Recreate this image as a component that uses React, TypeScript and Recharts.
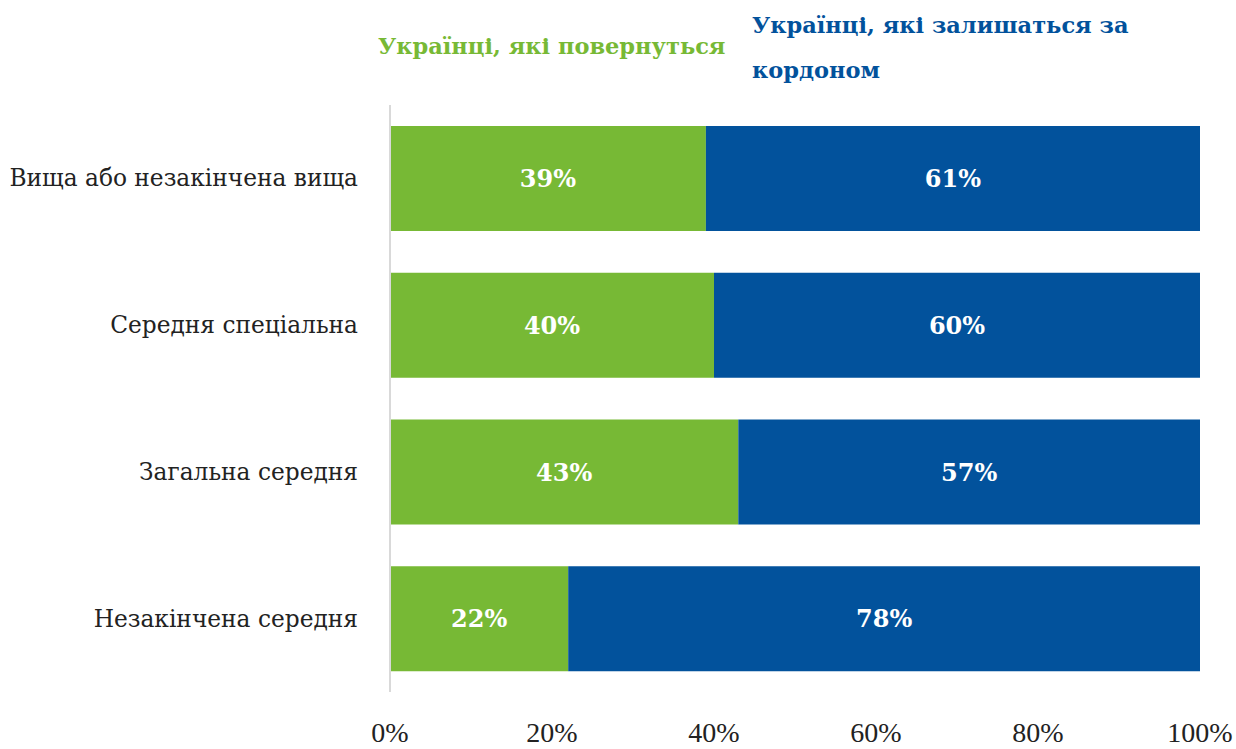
import { BarChart, Bar, XAxis, YAxis, LabelList } from 'recharts';

const categories = [
  'Вища або незакінчена вища',
  'Середня спеціальна',
  'Загальна середня',
  'Незакінчена середня',
];
const returning = [39, 40, 43, 22];
const staying = [61, 60, 57, 78];
const xTicks = [0, 20, 40, 60, 80, 100];

const GREEN = '#77b935';
const BLUE = '#02529c';

const data = categories.map((name, i) => ({
  name,
  returning: returning[i],
  staying: staying[i],
}));

const CategoryTick = ({ x, y, payload }: any) => (
  <text x={x - 24} y={y} dy={8} textAnchor="end" fill="#222" fontSize={23.3} fontFamily="DejaVu Serif">
    {payload.value}
  </text>
);

const PercentTick = ({ x, y, payload }: any) => (
  <text x={x} y={y} dy={42} textAnchor="middle" fill="#222" fontSize={28} fontFamily="Liberation Serif">
    {payload.value}%
  </text>
);

const pctLabel = (v: any) => `${v}%`;

export default function App() {
  return (
    <div style={{ position: 'absolute', left: 0, top: 0, width: 1236, height: 749, background: '#fff' }}>
      <div
        style={{
          position: 'absolute', left: 378, top: 33, color: GREEN, fontWeight: 'bold',
          fontFamily: 'DejaVu Serif', fontSize: 22.5, whiteSpace: 'nowrap',
        }}
      >
        Українці, які повернуться
      </div>
      <div
        style={{
          position: 'absolute', left: 752, top: 3, color: BLUE, fontWeight: 'bold',
          fontFamily: 'DejaVu Serif', fontSize: 22.5, lineHeight: '45px', whiteSpace: 'nowrap',
        }}
      >
        Українці, які залишаться за
        <br />
        кордоном
      </div>
      <BarChart
        width={1236}
        height={749}
        data={data}
        layout="vertical"
        margin={{ top: 105, right: 36, left: 0, bottom: 0 }}
      >
        <XAxis
          type="number"
          domain={[0, 100]}
          ticks={xTicks}
          axisLine={false}
          tickLine={false}
          height={57}
          tick={<PercentTick />}
          interval={0}
        />
        <YAxis
          type="category"
          dataKey="name"
          width={390}
          axisLine={{ stroke: '#d9d9d9', strokeWidth: 2 }}
          tickLine={false}
          tick={<CategoryTick />}
        />
        <Bar dataKey="returning" stackId="a" fill={GREEN} barSize={105} isAnimationActive={false}>
          <LabelList
            dataKey="returning"
            position="center"
            formatter={pctLabel}
            fill="#fff"
            fontSize={24}
            fontWeight="bold"
            fontFamily="DejaVu Serif"
          />
        </Bar>
        <Bar dataKey="staying" stackId="a" fill={BLUE} barSize={105} isAnimationActive={false}>
          <LabelList
            dataKey="staying"
            position="center"
            formatter={pctLabel}
            fill="#fff"
            fontSize={24}
            fontWeight="bold"
            fontFamily="DejaVu Serif"
          />
        </Bar>
      </BarChart>
    </div>
  );
}
